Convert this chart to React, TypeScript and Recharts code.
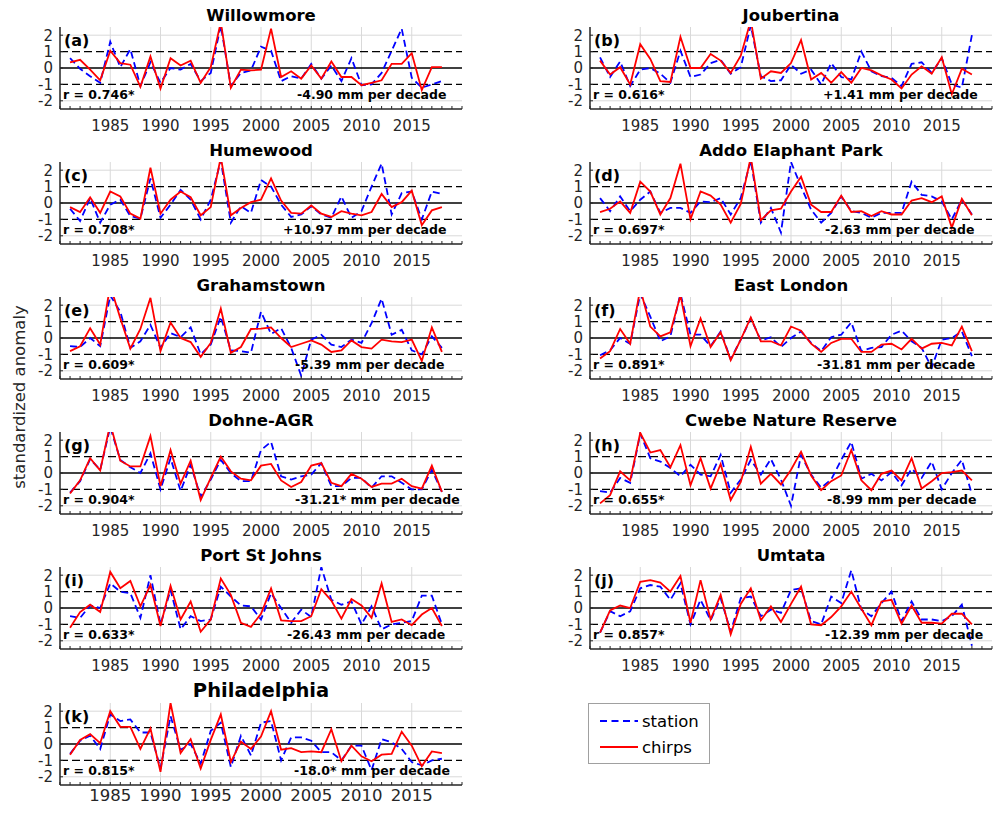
import React from 'react';
import { LineChart, Line, XAxis, YAxis, CartesianGrid, ReferenceLine } from 'recharts';

// ---------- data ----------
const YEARS = [1981, 1982, 1983, 1984, 1985, 1986, 1987, 1988, 1989, 1990, 1991, 1992, 1993, 1994, 1995, 1996, 1997, 1998, 1999, 2000, 2001, 2002, 2003, 2004, 2005, 2006, 2007, 2008, 2009, 2010, 2011, 2012, 2013, 2014, 2015, 2016, 2017, 2018];
const MINOR_YEARS = [1980, 1981, 1982, 1983, 1984, 1985, 1986, 1987, 1988, 1989, 1990, 1991, 1992, 1993, 1994, 1995, 1996, 1997, 1998, 1999, 2000, 2001, 2002, 2003, 2004, 2005, 2006, 2007, 2008, 2009, 2010, 2011, 2012, 2013, 2014, 2015, 2016, 2017, 2018, 2019, 2020];
const X_LABEL_TICKS = [1985, 1990, 1995, 2000, 2005, 2010, 2015];
const Y_TICKS = [-2, -1, 0, 1, 2];

const willowmoreStation = [0.6, -0.05, -0.5, -0.9, 1.6, 0.05, 1.15, -1.1, 0.35, -0.9, 0, -0.1, 0.25, -0.8, -0.3, 2.6, -1.1, -0.3, -0.15, 1.3, 1.05, -0.8, -0.5, -0.65, 0.25, -0.65, 0.15, -0.8, 0.6, -1.05, -1.0, -0.3, 1.05, 2.4, -0.6, -1.2, -1.0, -0.8];
const willowmoreChirps = [0.35, 0.5, -0.1, -0.75, 1.05, 0.3, 0.2, -1.15, 0.7, -1.25, 0.6, 0.15, 0.45, -0.9, 0.05, 2.8, -1.2, -0.1, -0.15, -0.1, 2.4, -0.55, -0.2, -0.65, 0.15, -0.65, 0.4, -0.55, -0.55, -1.05, -0.9, -0.75, 0.25, 0.25, 0.9, -1.35, 0.05, 0.05];

const joubertinaStation = [0.65, -0.55, 0.4, -1.1, -0.1, 0.0, -0.35, -0.9, 1.05, -0.55, -0.4, 0.3, 0.5, -0.35, 0.05, 2.6, -0.5, -0.8, -0.75, 0.2, -0.35, -0.1, -1.0, 0.3, -0.55, -0.7, 1.0, -0.2, -0.5, -0.6, -1.1, 0.25, 0.35, -0.3, 0.6, -1.0, -1.2, 2.0];
const joubertinaChirps = [0.45, -0.4, 0.05, -1.0, 1.45, 0.55, -0.8, -0.85, 1.9, 0.0, 0.0, 0.85, 0.45, -0.3, 0.75, 2.9, -0.65, -0.2, -0.3, 0.3, 1.7, -0.7, -0.3, -0.9, -0.25, -0.9, 0.0, -0.15, -0.45, -0.7, -1.25, -0.4, 0.1, -0.35, 0.65, -1.6, -0.05, -0.4];

const humewoodStation = [-0.35, -1.1, 0.3, -1.2, -0.1, 0.2, -0.8, -0.95, 1.5, -0.9, -0.1, 0.8, 0.2, -1.0, 0.2, 2.6, -1.2, -0.2, -0.6, 1.4, 1.0, -0.1, -0.85, -0.7, -0.2, -0.7, -0.9, 0.4, -0.9, -0.5, 1.0, 2.4, -0.7, 0.6, 0.7, -1.0, 0.7, 0.55];
const humewoodChirps = [-0.25, -0.55, 0.35, -0.6, 0.7, 0.4, -0.65, -0.95, 2.15, -0.65, 0.2, 0.7, 0.35, -0.75, -0.25, 2.8, -0.75, -0.3, 0.05, 0.2, 1.5, 0.15, -0.6, -0.65, -0.15, -0.65, -0.85, -0.5, -0.65, -0.75, -0.55, 0.55, -0.25, 0.05, 0.75, -1.35, -0.45, -0.25];

const addoStation = [0.3, -0.5, 0.4, -0.5, 0.2, 0.7, -0.6, -0.3, -0.3, -0.6, 0.1, 0.05, 0.3, -0.7, 0.3, 2.6, -1.2, -0.3, -1.8, 2.5, 1.0, -0.4, -1.2, -0.6, 0.4, -0.5, -0.6, -0.9, -0.6, -0.6, -0.6, 1.3, 0.5, 0.4, 0.1, -1.0, 0.2, -0.7];
const addoChirps = [-0.55, -0.35, 0.1, -0.6, 1.3, 0.7, -0.7, 0.3, 2.4, -1.0, 0.7, 0.45, -0.1, -1.2, -0.05, 2.8, -1.05, -0.45, -0.35, 0.7, 1.6, -0.1, -0.55, -0.55, 0.45, -0.55, -0.5, -0.8, -0.5, -0.7, -0.7, 0.15, 0.3, 0.05, 0.4, -1.5, 0.25, -0.75];

const grahamstownStation = [-0.5, -0.55, 0.0, -0.5, 2.6, 1.6, -0.6, -0.2, 0.8, -0.6, 0.3, 0.05, 0.65, -1.0, -0.4, 1.3, -0.75, -0.8, -0.9, 1.6, 0.25, 0.6, -0.6, -2.3, -0.1, 0.2, -0.4, -0.55, -0.1, -0.3, 0.9, 2.4, 0.2, 0.5, -0.75, -1.0, 0.1, -0.6];
const grahamstownChirps = [-0.8, -0.5, 0.6, -0.4, 3.2, 1.2, -0.65, 0.55, 2.45, -0.8, 0.95, 0.0, -0.25, -1.15, -0.3, 1.8, -0.9, -0.55, 0.55, 0.57, 0.65, 0.0, -0.55, -0.35, -0.15, -0.4, -0.85, -0.75, -0.15, -0.55, -0.65, -0.1, -0.2, -0.25, -0.1, -1.4, 0.65, -0.85];

const eastLondonStation = [-1.05, -0.75, 0.0, -0.35, 2.7, 1.3, -0.2, 0.1, 2.7, 0.2, 0.2, -0.5, 0.4, -1.3, -0.1, 1.2, -0.15, 0.05, -0.55, 0.0, 0.4, -0.3, -0.8, 0.05, 0.2, 0.95, -0.8, -0.6, -0.55, 0.2, 0.45, -0.2, -0.6, -1.8, -0.1, 0.0, 0.4, -1.1];
const eastLondonChirps = [-1.25, -0.8, 0.55, -0.35, 3.0, 0.7, 0.1, 0.35, 2.6, -0.5, 1.2, -0.55, 0.35, -1.35, -0.1, 1.25, -0.2, -0.2, -0.45, 0.7, 0.45, -0.35, -0.85, -0.3, -0.05, -0.05, -0.85, -0.85, -0.4, -0.35, -0.7, -0.05, -0.65, -0.35, -0.3, -0.45, 0.7, -0.8];

const dohneStation = [-1.2, -0.5, 0.85, 0.2, 2.8, 0.8, 0.35, 0.0, 1.2, -1.0, 0.9, -1.1, 0.5, -1.45, -0.4, 0.8, 0.0, -0.5, -0.5, 1.4, 1.9, -0.2, -0.4, -0.2, -0.1, 0.6, -0.8, -0.8, -0.3, -0.3, -0.9, -0.2, -0.2, -0.6, -1.0, -1.0, 0.2, -1.15];
const dohneChirps = [-1.25, -0.45, 0.9, 0.15, 3.0, 0.75, 0.4, 0.4, 2.25, -0.8, 1.4, -0.65, 0.75, -1.65, -0.3, 1.0, 0.1, -0.35, -0.45, 0.45, 0.55, -0.45, -0.85, -0.55, 0.45, 0.6, -0.6, -0.8, -0.05, -0.35, -0.85, -0.65, -0.65, -0.35, -0.8, -0.95, 0.45, -1.15];

const cwebeStation = [-1.1, -1.2, -0.3, -0.6, 2.4, 0.9, 0.7, 0.3, -0.2, 0.5, -0.1, -0.2, 1.1, -1.2, -0.4, 0.8, -0.1, 0.85, -0.4, -2.0, 1.1, -0.1, -0.9, -0.4, 0.8, 1.9, -0.35, -0.05, -0.45, 0.05, -0.75, 0.25, -0.3, 0.7, -1.0, 0.0, 0.8, -1.3];
const cwebeChirps = [-1.85, -1.35, 0.1, -0.45, 2.45, 1.25, 1.4, 0.35, 1.7, -0.75, 0.9, -0.95, 0.55, -1.65, -0.55, 1.6, -0.65, -0.05, -0.7, 0.2, 1.3, -0.15, -1.05, -0.5, -0.15, 1.4, -0.45, -1.05, -0.05, 0.15, -0.45, 0.9, -0.95, -0.5, 0.0, 0.05, 0.15, -0.45];

const portStJohnsStation = [-0.5, -0.6, 0.15, 0.0, 1.5, 1.0, 0.9, -0.6, 2.0, -1.0, 1.1, -1.3, -0.5, -0.8, -0.7, 1.3, 0.7, 0.15, 0.1, -0.7, 0.9, 0.0, -0.9, -0.1, -0.55, 2.5, 0.5, 0.2, 0.4, -1.0, 0.1, -1.3, -1.0, -0.9, -0.8, 0.75, 0.75, -1.0];
const portStJohnsChirps = [-1.2, -0.25, 0.2, -0.25, 2.2, 1.2, 1.65, 0.1, 1.4, -1.1, 1.35, -0.7, 0.4, -1.45, -0.7, 1.8, 0.8, -0.9, -1.15, -0.35, 1.2, -0.75, -0.8, -0.8, -0.5, 1.15, 0.45, -0.65, 0.55, 0.15, -0.6, 1.5, -0.85, -0.7, -1.05, -0.4, 0.0, -1.1];

const umtataStation = [-1.5, -0.2, -0.5, -0.2, 1.2, 1.4, 1.3, 0.5, 1.5, -1.0, 0.5, -0.75, 0.6, -1.45, 0.6, 0.7, -0.5, -0.1, -0.3, 1.1, 1.2, -0.8, -1.0, 0.7, 0.3, 2.3, -0.1, -0.5, 0.3, 1.0, -0.8, 0.4, -0.7, -0.7, -0.8, -0.5, 0.2, -2.3];
const umtataChirps = [-1.5, -0.15, 0.15, 0.0, 1.6, 1.7, 1.55, 1.0, 1.95, -0.9, 1.7, -0.7, 0.8, -1.6, 0.25, 1.2, -0.75, 0.1, -0.85, 0.25, 1.3, -1.0, -1.05, -0.55, 0.1, 1.0, -0.05, -1.05, 0.4, 0.5, -0.95, 0.15, -0.9, -0.9, -0.95, -0.35, -0.35, -1.0];

const philadelphiaStation = [-0.6, 0.2, 0.5, -0.3, 1.8, 1.4, 1.5, 0.7, 0.7, -1.5, 1.7, -0.35, 0.0, -1.2, 0.8, 1.3, -1.4, 0.5, -0.7, 1.3, 1.4, -1.0, 0.4, 0.4, 0.2, -0.5, -0.5, -1.0, -0.1, -0.1, -1.6, 0.3, 0.1, -0.3, -1.1, -1.3, -1.0, -0.9];
const philadelphiaChirps = [-0.65, 0.25, 0.6, 0.05, 2.0, 1.05, 1.05, -0.3, 0.95, -1.7, 2.5, -0.55, 0.3, -1.5, 0.25, 1.8, -1.1, 0.15, -0.3, 0.45, 2.0, -0.35, -0.25, -0.5, -0.45, -0.5, 0.9, -1.05, -0.1, -0.75, -1.05, -0.65, -0.6, 0.75, -0.1, -1.35, -0.45, -0.55];

const TITLES = ['Willowmore', 'Joubertina', 'Humewood', 'Addo Elaphant Park', 'Grahamstown', 'East London', 'Dohne-AGR', 'Cwebe Nature Reserve', 'Port St Johns', 'Umtata', 'Philadelphia'];
const LETTERS = ['(a)', '(b)', '(c)', '(d)', '(e)', '(f)', '(g)', '(h)', '(i)', '(j)', '(k)'];
const R_TEXT = ['r = 0.746*', 'r = 0.616*', 'r = 0.708*', 'r = 0.697*', 'r = 0.609*', 'r = 0.891*', 'r = 0.904*', 'r = 0.655*', 'r = 0.633*', 'r = 0.857*', 'r = 0.815*'];
const TREND_TEXT = ['-4.90 mm per decade', '+1.41 mm per decade', '+10.97 mm per decade', '-2.63 mm per decade', '-5.39 mm per decade', '-31.81 mm per decade', '-31.21* mm per decade', '-8.99 mm per decade', '-26.43 mm per decade', '-12.39 mm per decade', '-18.0* mm per decade'];
const STATION_SERIES = [willowmoreStation, joubertinaStation, humewoodStation, addoStation, grahamstownStation, eastLondonStation, dohneStation, cwebeStation, portStJohnsStation, umtataStation, philadelphiaStation];
const CHIRPS_SERIES = [willowmoreChirps, joubertinaChirps, humewoodChirps, addoChirps, grahamstownChirps, eastLondonChirps, dohneChirps, cwebeChirps, portStJohnsChirps, umtataChirps, philadelphiaChirps];

// ---------- layout ----------
const PLOT_W = 402;
const PLOT_H = 82;
const ROW_TOPS = [27, 162, 297, 432, 567, 703];
const COL_LEFTS = [60, 590];
const TREND_X = [237, 233, 223, 235, 235, 227, 235, 237, 227, 235, 234];
const AX = '#262626';
const FONT = "'DejaVu Sans', 'Noto Sans', sans-serif";

function Panel({ idx }: { idx: number }) {
  const col = idx % 2;
  const row = Math.floor(idx / 2);
  const big = idx === 10;
  const plotLeft = COL_LEFTS[col];
  const plotTop = ROW_TOPS[row];
  const rightPad = col === 0 ? 8 : 1;
  const chartW = 60 + PLOT_W + rightPad;
  const axisH = big ? 22 : 28;
  const chartH = 10 + PLOT_H + axisH;
  const fs = big ? 16.5 : 15;
  const st = STATION_SERIES[idx];
  const ch = CHIRPS_SERIES[idx];
  const data = YEARS.map((year, i) => ({ year, station: st[i], chirps: ch[i] }));
  return (
    <div style={{ position: 'absolute', left: plotLeft - 60, top: plotTop - 10, width: chartW, height: chartH }}>
      <LineChart width={chartW} height={chartH} data={data} margin={{ top: 10, right: rightPad, bottom: 0, left: 20 }}>
        <CartesianGrid
          xAxisId="b"
          yAxisId="l"
          verticalValues={X_LABEL_TICKS}
          horizontalValues={[-2, 2]}
          stroke="#d9d9d9"
          strokeWidth={1}
        />
        <XAxis
          xAxisId="t"
          orientation="top"
          dataKey="year"
          type="number"
          domain={[1980, 2020]}
          allowDataOverflow
          ticks={MINOR_YEARS}
          interval={0}
          tickSize={-3}
          height={0}
          tickFormatter={() => ''}
          axisLine={{ stroke: AX, strokeWidth: 1.5 }}
          tickLine={{ stroke: AX, strokeWidth: 1 }}
        />
        <XAxis
          xAxisId="b"
          orientation="bottom"
          dataKey="year"
          type="number"
          domain={[1980, 2020]}
          allowDataOverflow
          ticks={MINOR_YEARS}
          interval={0}
          tickSize={-3}
          tickMargin={big ? 7 : 14}
          height={axisH}
          tickFormatter={(v: number) => (X_LABEL_TICKS.indexOf(v) >= 0 ? String(v) : '')}
          tick={{ fontSize: fs, fill: AX, fontFamily: FONT }}
          axisLine={{ stroke: AX, strokeWidth: 1.5 }}
          tickLine={{ stroke: AX, strokeWidth: 1 }}
        />
        <YAxis
          yAxisId="l"
          type="number"
          domain={[-2.5, 2.5]}
          allowDataOverflow
          ticks={Y_TICKS}
          interval={0}
          tickSize={-3}
          tickMargin={10}
          width={40}
          tick={{ fontSize: 15, fill: AX, fontFamily: FONT }}
          axisLine={{ stroke: AX, strokeWidth: 1.5 }}
          tickLine={{ stroke: AX, strokeWidth: 1 }}
        />
        <YAxis
          yAxisId="r"
          orientation="right"
          type="number"
          domain={[-2.5, 2.5]}
          allowDataOverflow
          ticks={Y_TICKS}
          interval={0}
          tickSize={-3}
          width={0}
          tickFormatter={() => ''}
          axisLine={{ stroke: AX, strokeWidth: 1.5 }}
          tickLine={{ stroke: AX, strokeWidth: 1 }}
        />
        <ReferenceLine xAxisId="b" yAxisId="l" y={1} stroke="#000" strokeWidth={1.3} strokeDasharray="8 4" />
        <ReferenceLine xAxisId="b" yAxisId="l" y={-1} stroke="#000" strokeWidth={1.3} strokeDasharray="8 4" />
        <ReferenceLine xAxisId="b" yAxisId="l" y={0} stroke="#000" strokeWidth={1.3} />
        <Line
          xAxisId="b"
          yAxisId="l"
          type="linear"
          dataKey="station"
          stroke="#0000ff"
          strokeWidth={1.8}
          strokeDasharray="7 4"
          dot={false}
          activeDot={false}
          isAnimationActive={false}
        />
        <Line
          xAxisId="b"
          yAxisId="l"
          type="linear"
          dataKey="chirps"
          stroke="#ff0000"
          strokeWidth={1.8}
          dot={false}
          activeDot={false}
          isAnimationActive={false}
        />
      </LineChart>
    </div>
  );
}

function Overlay() {
  const items: React.ReactNode[] = [];
  TITLES.forEach((t, idx) => {
    const col = idx % 2;
    const row = Math.floor(idx / 2);
    const big = idx === 10;
    const pl = COL_LEFTS[col];
    const pt = ROW_TOPS[row];
    items.push(
      <text key={'t' + idx} x={pl + PLOT_W / 2} y={pt - (big ? 12.7 : 11.3)} textAnchor="middle" dominantBaseline="central" fontWeight={700} fontSize={big ? 19.5 : 16.5} fill="#000">{t}</text>,
      <text key={'l' + idx} x={pl + 4} y={pt + 13.5} dominantBaseline="central" fontWeight={700} fontSize={16} fill="#000">{LETTERS[idx]}</text>,
      <text key={'r' + idx} x={pl + 3} y={pt + 67.5} dominantBaseline="central" fontWeight={700} fontSize={12.5} fill="#000">{R_TEXT[idx]}</text>,
      <text key={'d' + idx} x={pl + TREND_X[idx]} y={pt + 67.5} dominantBaseline="central" fontWeight={700} fontSize={12.5} fill="#000">{TREND_TEXT[idx]}</text>
    );
  });
  return (
    <svg width={993} height={814} style={{ position: 'absolute', left: 0, top: 0, pointerEvents: 'none', fontFamily: FONT }}>
      {items}
      <text x={19} y={397} transform="rotate(-90 19 397)" textAnchor="middle" dominantBaseline="central" fontSize={16.5} fill={AX}>standardized anomaly</text>
      <rect x={588.5} y={703.5} width={121} height={60} fill="#fff" stroke="#a0a0a0" strokeWidth={1} />
      <line x1={600} y1={721} x2={638} y2={721} stroke="#0000ff" strokeWidth={1.8} strokeDasharray="7 4.5" />
      <text x={642} y={721} dominantBaseline="central" fontSize={16.5} fill="#000">station</text>
      <line x1={600} y1={747} x2={638} y2={747} stroke="#ff0000" strokeWidth={1.8} />
      <text x={642} y={747} dominantBaseline="central" fontSize={16.5} fill="#000">chirps</text>
    </svg>
  );
}

export default function App() {
  return (
    <div style={{ position: 'absolute', left: 0, top: 0, width: 993, height: 814, background: '#fff', fontFamily: FONT, overflow: 'hidden' }}>
      {TITLES.map((_, idx) => (
        <Panel key={idx} idx={idx} />
      ))}
      <Overlay />
    </div>
  );
}
